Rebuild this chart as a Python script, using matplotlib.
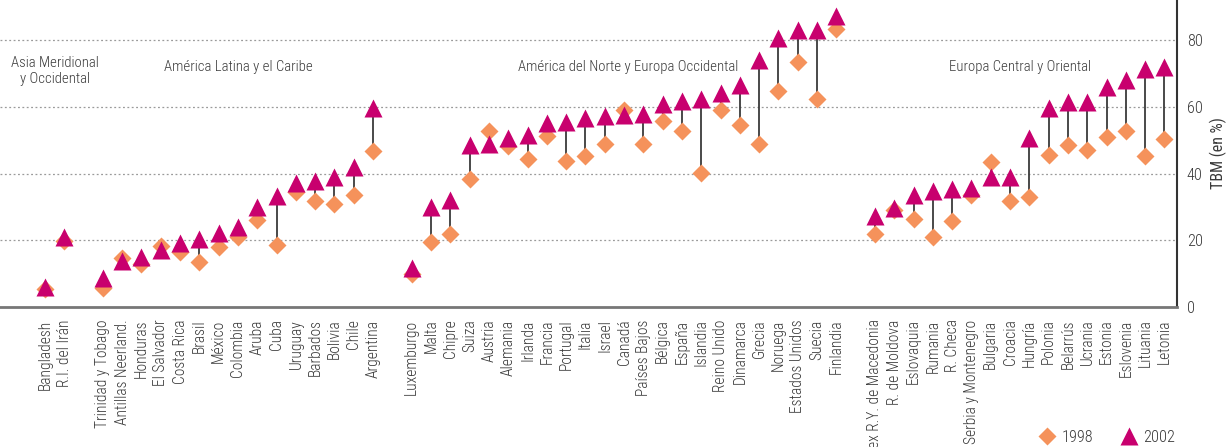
import matplotlib
matplotlib.use("Agg")
import matplotlib.pyplot as plt
from matplotlib.lines import Line2D

plt.rcParams['font.family'] = ['Roboto Condensed', 'DejaVu Sans']
plt.rcParams['font.weight'] = 'light'

# Data
groups = ["Asia Meridional\ny Occidental", "América Latina y el Caribe",
          "América del Norte y Europa Occidental", "Europa Central y Oriental"]
countries_asia = ["Bangladesh", "R.I. del Irán"]
countries_latam = ["Trinidad y Tobago", "Antillas Neerland.", "Honduras", "El Salvador",
                   "Costa Rica", "Brasil", "México", "Colombia", "Aruba", "Cuba",
                   "Uruguay", "Barbados", "Bolivia", "Chile", "Argentina"]
countries_nawe = ["Luxemburgo", "Malta", "Chipre", "Suiza", "Austria", "Alemania",
                  "Irlanda", "Francia", "Portugal", "Italia", "Israel", "Canadá",
                  "Países Bajos", "Bélgica", "España", "Islandia", "Reino Unido",
                  "Dinamarca", "Grecia", "Noruega", "Estados Unidos", "Suecia", "Finlandia"]
countries_ceo = ["ex R.Y. de Macedonia", "R. de Moldova", "Eslovaquia", "Rumania",
                 "R. Checa", "Serbia y Montenegro", "Bulgaria", "Croacia", "Hungría",
                 "Polonia", "Belarrús", "Ucrania", "Estonia", "Eslovenia", "Lituania", "Letonia"]

v1998_asia = [5.3, 19.9]
v2002_asia = [5.9, 20.9]
v1998_latam = [5.6, 14.6, 12.9, 18.4, 16.6, 13.4, 18.1, 20.9, 26.1, 18.6, 34.4, 31.9, 30.8, 33.6, 46.8]
v2002_latam = [8.6, 13.7, 15.1, 17.1, 19.1, 20.4, 22.1, 23.9, 30.1, 33.4, 37.1, 37.9, 39.1, 42.1, 59.5]
v1998_nawe = [10.0, 19.6, 21.8, 38.4, 52.7, 48.1, 44.4, 51.2, 43.8, 45.3, 48.9, 59.0,
              48.8, 55.8, 52.7, 40.3, 59.0, 54.4, 48.9, 64.7, 73.3, 62.3, 83.3]
v2002_nawe = [11.8, 29.9, 32.1, 48.4, 48.8, 50.7, 51.4, 55.2, 55.3, 56.7, 57.2, 57.4,
              57.8, 60.8, 61.6, 62.3, 64.1, 66.6, 74.0, 80.5, 83.0, 83.0, 87.2]
v1998_ceo = [21.9, 29.1, 26.3, 21.0, 25.9, 33.6, 43.4, 31.8, 33.1, 45.6, 48.4, 47.1, 50.8, 52.7, 45.4, 50.3]
v2002_ceo = [27.3, 29.6, 33.6, 34.8, 35.3, 35.8, 38.9, 39.1, 50.7, 59.5, 61.3, 61.3, 66.0, 68.0, 71.3, 72.0]

yticks = [0, 20, 40, 60, 80]

country_groups = [countries_asia, countries_latam, countries_nawe, countries_ceo]
v1998_groups = [v1998_asia, v1998_latam, v1998_nawe, v1998_ceo]
v2002_groups = [v2002_asia, v2002_latam, v2002_nawe, v2002_ceo]

# Build positions with one empty slot between groups
xs, labels, a, b = [], [], [], []
pos = 0
for cg, g98, g02 in zip(country_groups, v1998_groups, v2002_groups):
    for c, p, q in zip(cg, g98, g02):
        xs.append(pos); labels.append(c); a.append(p); b.append(q)
        pos += 1
    pos += 1

c98 = '#F5925B'
c02 = '#C8006E'
txt = '#3a3a3a'
fs = 11.2

fig = plt.figure(figsize=(12.3, 4.47), dpi=100)
ax = fig.add_axes([0.0, 1 - 307/447, 1177/1230, 307/447])

ax.vlines(xs, a, b, color='#3a3a3a', lw=1.3, zorder=2)
ax.plot(xs, a, 'D', color=c98, ms=9, mec='none', zorder=3, label='1998')
ax.plot(xs, b, '^', color=c02, ms=13, mec='none', zorder=4, label='2002')

ax.set_xlim(-2.33, 58.65)
ax.set_ylim(0, 92)
ax.yaxis.tick_right()
ax.yaxis.set_label_position('right')
ax.set_yticks(yticks)
ax.set_yticklabels([str(t) for t in yticks], fontsize=fs + 0.5, color=txt)
ax.tick_params(axis='y', length=0, pad=7)
ax.set_ylabel('TBM (en %)', fontsize=fs + 0.3, color=txt, labelpad=5)

ax.set_xticks(xs)
ax.set_xticklabels(labels, rotation=90, fontsize=fs, color=txt, va='top', ha='center')
ax.tick_params(axis='x', length=0, pad=9)

for t in [20, 40, 60, 80]:
    ax.axhline(t, color='#9a9a9a', lw=0.9, ls=(0, (1.5, 2)), zorder=1)

for s in ['top', 'left']:
    ax.spines[s].set_visible(False)
ax.spines['bottom'].set_color('#777777')
ax.spines['bottom'].set_linewidth(2)
ax.spines['right'].set_color('#333333')
ax.spines['right'].set_linewidth(1.5)

# group titles
group_label_x = [0.5, 10.0, 30.2, 50.5]
group_label_y = [70.8, 71.9, 71.9, 71.9]
for g, gx, gy in zip(groups, group_label_x, group_label_y):
    ax.text(gx, gy, g, ha='center', va='center', fontsize=10.6, color=txt, linespacing=1.15)

handles = [Line2D([], [], marker='D', color=c98, ls='none', ms=9, mec='none'),
           Line2D([], [], marker='^', color=c02, ls='none', ms=13, mec='none')]
fig.legend(handles, ['1998', '2002'], loc='center right', bbox_to_anchor=(0.961, 0.022),
           ncol=2, frameon=False, fontsize=fs + 0.5, handletextpad=0.2, columnspacing=1.5,
           labelcolor=txt, borderaxespad=0, handlelength=1.4)

fig.savefig('out.png', dpi=100)
